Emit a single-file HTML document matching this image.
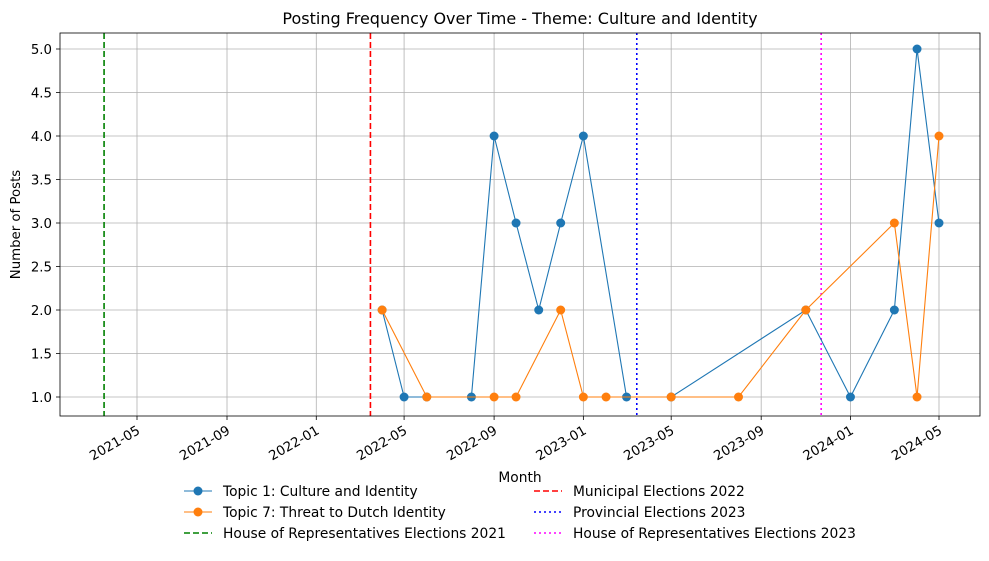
<!DOCTYPE html>
<html><head><meta charset="utf-8"><style>
body{margin:0;background:#fff;}
svg text{font-family:"DejaVu Sans","Liberation Sans",sans-serif;}
</style></head><body>
<svg id="chart" width="989" height="556" xmlns="http://www.w3.org/2000/svg">
<rect width="989" height="556" fill="#fff"/>
<g id="grid"></g><g id="vlines"></g><g id="series"></g><g id="axes"></g><g id="legend"></g>
</svg>
<script>
const xTicks = ["2021-05","2021-09","2022-01","2022-05","2022-09","2023-01","2023-05","2023-09","2024-01","2024-05"];
const yTicks = [1.0,1.5,2.0,2.5,3.0,3.5,4.0,4.5,5.0];
const t1Dates = ["2022-04-01","2022-05-01","2022-06-01","2022-08-01","2022-09-01","2022-10-01","2022-11-01","2022-12-01","2023-01-01","2023-03-01","2023-05-01","2023-11-01","2024-01-01","2024-03-01","2024-04-01","2024-05-01"];
const t1Values = [2,1,1,1,4,3,2,3,4,1,1,2,1,2,5,3];
const t7Dates = ["2022-04-01","2022-06-01","2022-09-01","2022-10-01","2022-12-01","2023-01-01","2023-02-01","2023-05-01","2023-08-01","2023-11-01","2024-03-01","2024-04-01","2024-05-01"];
const t7Values = [2,1,1,1,2,1,1,1,1,2,3,1,4];
const elecDates = ["2021-03-17","2022-03-16","2023-03-15","2023-11-22"];
const elecLabels = ["House of Representatives Elections 2021","Municipal Elections 2022","Provincial Elections 2023","House of Representatives Elections 2023"];
const elecColors = ["green","red","blue","magenta"];
const elecDash = ["6,3","6,3","2,3","2,3"];

const NS="http://www.w3.org/2000/svg";
const L=60,R=980,T=33,B=416;
const d0=Date.parse("2021-05-01"),d1=Date.parse("2024-05-01");
function xs(d){const v=Date.parse(d.length==7?d+"-01":d);return 137+(v-d0)/(d1-d0)*802;}
function ys(v){return 397-(v-1)*87;}
function mk(tag,attrs,parent,txt){const e=document.createElementNS(NS,tag);for(const k in attrs)e.setAttribute(k,attrs[k]);if(txt!=null)e.textContent=txt;document.getElementById(parent).appendChild(e);return e;}

xTicks.forEach(t=>{const x=xs(t);
 let g=mk("line",{x1:x,x2:x,y1:T,y2:B,stroke:"#b0b0b0","stroke-width":0.8},"grid");
 
 
 mk("line",{x1:x,x2:x,y1:B,y2:B+4,stroke:"#000","stroke-width":0.8},"axes");
 let tx=mk("text",{x:x+4,y:B+17,"font-size":13.3,"text-anchor":"end",transform:`rotate(-30 ${x+4} ${B+17})`},"axes",t);
 
 
});
yTicks.forEach(v=>{const y=ys(v);
 let g=mk("line",{x1:L,x2:R,y1:y,y2:y,stroke:"#b0b0b0","stroke-width":0.8},"grid");
 
 
 mk("line",{x1:L-4,x2:L,y1:y,y2:y,stroke:"#000","stroke-width":0.8},"axes");
 let tx=mk("text",{x:L-8,y:y+5,"font-size":13.3,"text-anchor":"end"},"axes",v.toFixed(1));
 
 
});
elecDates.forEach((d,i)=>{const x=xs(d);
 let l=mk("line",{x1:x,x2:x,y1:T,y2:B,stroke:elecColors[i],"stroke-width":1.6,"stroke-dasharray":elecDash[i]},"vlines");
 
 
});
function series(dates,vals,color,name){
 const pts=dates.map((d,i)=>xs(d)+","+ys(vals[i])).join(" ");
 let p=mk("polyline",{points:pts,fill:"none",stroke:color,"stroke-width":1.1},"series");
 
 
 dates.forEach((d,i)=>{let c=mk("circle",{cx:xs(d),cy:ys(vals[i]),r:4.5,fill:color},"series");
  
  });
}
series(t1Dates,t1Values,"#1f77b4","topic-1");
series(t7Dates,t7Values,"#ff7f0e","topic-7");
let fr=mk("rect",{x:L,y:T,width:R-L,height:B-T,fill:"none",stroke:"#000","stroke-width":0.8},"axes");


let ti=mk("text",{x:(L+R)/2,y:24,"font-size":16,"text-anchor":"middle"},"axes","Posting Frequency Over Time - Theme: Culture and Identity");


let yl=mk("text",{x:20,y:(T+B)/2,"font-size":13.3,"text-anchor":"middle",transform:`rotate(-90 20 ${(T+B)/2})`},"axes","Number of Posts");


let xl=mk("text",{x:520,y:482,"font-size":13.8,"text-anchor":"middle"},"axes","Month");



const legItems=[
 {x:184,y:491,c:"#1f77b4",m:true,lab:"Topic 1: Culture and Identity"},
 {x:184,y:512,c:"#ff7f0e",m:true,lab:"Topic 7: Threat to Dutch Identity"},
 {x:184,y:533,c:elecColors[0],d:elecDash[0],lab:elecLabels[0]},
 {x:534,y:491,c:elecColors[1],d:elecDash[1],lab:elecLabels[1]},
 {x:534,y:512,c:elecColors[2],d:elecDash[2],lab:elecLabels[2]},
 {x:534,y:533,c:elecColors[3],d:elecDash[3],lab:elecLabels[3]}];
legItems.forEach(it=>{
 const a={x1:it.x,x2:it.x+28,y1:it.y,y2:it.y,stroke:it.c,"stroke-width":it.m?1.1:1.6};
 if(it.d)a["stroke-dasharray"]=it.d;
 mk("line",a,"legend");
 if(it.m)mk("circle",{cx:it.x+14,cy:it.y,r:4.5,fill:it.c},"legend");
 let t=mk("text",{x:it.x+39,y:it.y+5,"font-size":13.8},"legend",it.lab);
 
 
});
</script>
</body></html>
